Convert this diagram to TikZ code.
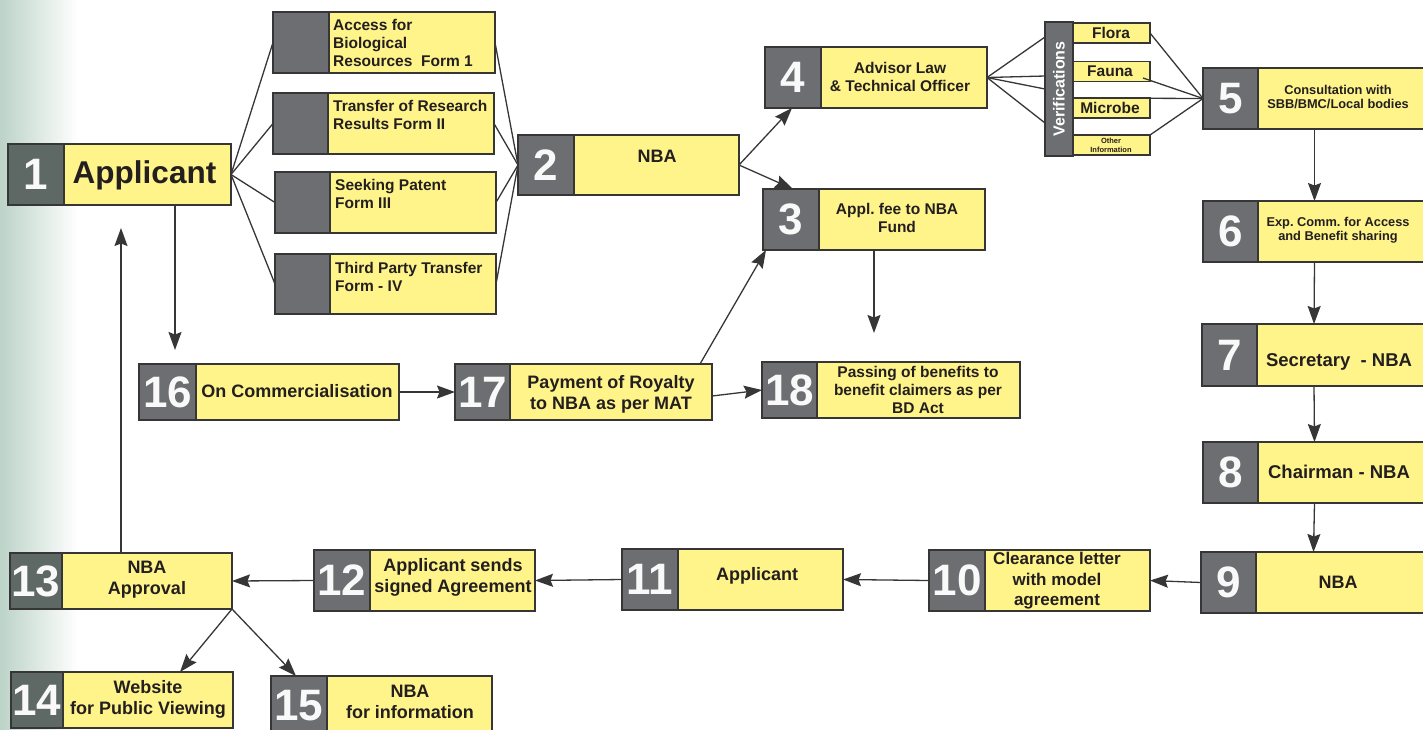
\documentclass[tikz,border=0pt]{standalone}
\usepackage{fontspec}
\setmainfont{Liberation Sans}
\usetikzlibrary{arrows.meta,calc}
\definecolor{yel}{HTML}{FFF48A}
\definecolor{gry}{HTML}{6D6E71}
\definecolor{gryg}{HTML}{5E6966}
\definecolor{edge}{HTML}{363636}
\definecolor{ink}{HTML}{231F20}
\definecolor{bgl}{HTML}{BCD3C8}
\frenchspacing
\newcommand\mkbox[8][gry]{%
  \node[ybox, minimum width={#6-#4}, minimum height={#7-#5}] (#2) at ({(#4+#6)/2},{(#5+#7)/2}) {};
  \node[gbox, fill=#1, minimum width={#8-#4}, minimum height={#7-#5}] (#2n) at ({(#4+#8)/2},{(#5+#7)/2}) {#3};
}
\begin{document}
\begin{tikzpicture}[x=1pt,y=-1pt,
  ybox/.style={draw=edge, line width=1.3pt, fill=yel, rectangle, inner sep=0pt, outer sep=0pt},
  gbox/.style={draw=edge, line width=1.3pt, rectangle, inner sep=0pt, outer sep=0pt, text=white!96!gry, font=\bfseries\fontsize{44}{44}\selectfont},
  lbl/.style={text=ink, inner sep=0pt, align=center, font=\frenchspacing\bfseries\fontsize{15.5}{18}\selectfont},
  big/.style={lbl, font=\frenchspacing\bfseries\fontsize{18}{21}\selectfont},
  sml/.style={lbl, font=\frenchspacing\bfseries\fontsize{12.8}{14}\selectfont},
  ln/.style={draw=edge, line width=1.3pt},
  arr/.style={draw=edge, line width=1.3pt, -{Stealth[length=18pt,width=13pt,inset=2.5pt]}}]
\useasboundingbox (0,0) rectangle (1423,729);
\fill[left color=bgl, right color=white] (0,0) rectangle (78,729);

% boxes
\mkbox[gryg]{b1}{1}{8}{144}{231}{205}{64}
\mkbox{f1}{}{273}{12}{495}{73}{329}
\mkbox{f2}{}{273}{93}{494}{154}{328}
\mkbox{f3}{}{275}{172}{496}{233}{330}
\mkbox{f4}{}{275}{254}{496}{314}{330}
\mkbox{b2}{2}{518}{135}{739}{195}{574}
\mkbox{b4}{4}{765}{47}{987}{108}{821}
\mkbox{b3}{3}{763}{189}{985}{250}{819}
\mkbox{b5}{5}{1203}{68}{1426}{129}{1258}
\mkbox{b6}{6}{1203}{201}{1426}{262}{1258}
\mkbox{b7}{7}{1202}{324}{1426}{386}{1257}
\mkbox{b8}{8}{1203}{442}{1426}{503}{1258}
\mkbox{b9}{9}{1201}{552}{1426}{613}{1256}
\mkbox{b10}{10}{929}{550}{1150}{611}{985}
\mkbox{b11}{11}{622}{549}{843}{610}{678}
\mkbox{b12}{12}{314}{550}{535}{611}{370}
\mkbox[gryg]{b13}{13}{10}{553}{232}{609}{62}
\mkbox[gryg]{b14}{14}{11}{672}{233}{728}{63}
\mkbox{b15}{15}{271}{676}{492}{736}{327}
\mkbox{b16}{16}{139}{364}{399}{420}{196}
\mkbox{b17}{17}{455}{364}{712}{420}{510}
\mkbox{b18}{18}{762}{362}{1020}{418}{817}

% verification bar and small boxes
\node[ybox, fill=gry, minimum width=28pt, minimum height=134pt] (vb) at (1059,89) {};
\node[lbl, text=white, rotate=90, font=\bfseries\fontsize{16}{18}\selectfont] (vbt) at (1059,89) {Verifications};
\node[ybox, minimum width=77pt, minimum height=20pt] (flora) at (1111.5,33) {};
\node[ybox, minimum width=77pt, minimum height=20pt] (fauna) at (1111.5,71.5) {};
\node[ybox, minimum width=77pt, minimum height=20pt] (microbe) at (1111.5,108) {};
\node[ybox, minimum width=77pt, minimum height=20pt] (other) at (1111.5,145) {};
\node[lbl] (florat) at (1111,33) {Flora};
\node[lbl] (faunat) at (1110,71.5) {Fauna};
\node[lbl] (microbet) at (1110,108) {Microbe};
\node[lbl, font=\bfseries\fontsize{7.5}{8.5}\selectfont] (othert) at (1111,145.5) {Other\\Information};

% labels
\node[lbl, font=\bfseries\fontsize{31.5}{34}\selectfont] (b1t) at (144.5,175) {Applicant};
\node[lbl, anchor=north west, align=left] (f1t) at (333,19) {Access for\\Biological\\Resources\ \ Form 1};
\node[lbl, anchor=north west, align=left] (f2t) at (333,100) {Transfer of Research\\Results Form II};
\node[lbl, anchor=north west, align=left] (f3t) at (335,179) {Seeking Patent\\Form III};
\node[lbl, anchor=north west, align=left] (f4t) at (335,262) {Third Party Transfer\\Form - IV};
\node[big] (b2t) at (657,156) {NBA};
\node[lbl] (b4t) at (900,77) {Advisor Law\\\& Technical Officer};
\node[lbl] (b3t) at (897,218) {Appl. fee to NBA\\Fund};
\node[sml] (b5t) at (1338,97) {Consultation with\\SBB/BMC/Local bodies};
\node[sml] (b6t) at (1338,230) {Exp. Comm. for Access\\and Benefit sharing};
\node[big, font=\bfseries\fontsize{18.5}{21}\selectfont] (b7t) at (1339,362) {Secretary\ \ - NBA};
\node[big, font=\bfseries\fontsize{18.5}{21}\selectfont] (b8t) at (1339,472) {Chairman - NBA};
\node[big] (b9t) at (1338,582) {NBA};
\node[lbl, font=\bfseries\fontsize{17}{20.5}\selectfont] (b10t) at (1057,581) {Clearance letter\\with model\\agreement};
\node[big] (b11t) at (757,576) {Applicant};
\node[big] (b12t) at (453,577) {Applicant sends\\signed Agreement};
\node[big] (b13t) at (147,580) {NBA\\Approval};
\node[big] (b14t) at (148,699) {Website\\for Public Viewing};
\node[big] (b15t) at (410,702) {NBA\\for information};
\node[big] (b16t) at (297,391) {On Commercialisation};
\node[big] (b17t) at (611,394) {Payment of Royalty\\to NBA as per MAT};
\node[lbl] (b18t) at (918,390) {Passing of benefits to\\benefit claimers as per\\BD Act};

% free ends
\coordinate (u1) at (121,228);
\coordinate (d16) at (175,350);
\coordinate (d18) at (874,333);

% connectors: applicant -> forms -> NBA
\foreach \f in {f1,f2,f3,f4} {
  \draw[ln] (b1.east) -- (\f.west);
  \draw[ln] (\f.east) -- (b2.west);
}
\draw[arr] (b2.east) -- ([xshift=27pt]b4.south west);
\draw[arr] (b2.east) -- ([xshift=30pt]b3.north west);
% advisor -> verifications
\draw[ln] (b4.east) -- ([yshift=52pt]vb.west);
\draw[ln] (b4.east) -- ([yshift=13pt]vb.west);
\draw[ln] (b4.east) -- ([yshift=0pt]vb.west);
\draw[ln] (b4.east) -- ([yshift=-34pt]vb.west);
% verifications -> 5
\draw[ln] (flora.east) -- (b5.west);
\draw[ln] ([xshift=-7pt,yshift=-6.5pt]fauna.east) -- (b5.west);
\draw[ln] (microbe.north west) -- (b5.west);
\draw[ln] (other.north east) -- (b5.west);
% right column
\draw[arr] (b5.south) -- (b6.north);
\draw[arr] (b6.south) -- (b7.north);
\draw[arr] (b7.south) -- (b8.north);
\draw[arr] (b8.south) -- (b9.north);
% bottom row
\draw[arr] (b9.west) -- (b10.east);
\draw[arr] (b10.west) -- (b11.east);
\draw[arr] (b11.west) -- (b12.east);
\draw[arr] (b12.west) -- (b13.east);
\draw[arr] (b13.north) -- (u1);
\draw[arr] (b13.south east) -- ([xshift=58pt]b14.north);
\draw[arr] (b13.south east) -- ([xshift=25pt]b15.north west);
% middle row
\draw[arr] ([xshift=55.5pt]b1.south) -- (d16);
\draw[arr] (b3.south) -- (d18);
\draw[arr] (b16.east) -- (b17.west);
\draw[arr] ([xshift=116.5pt]b17.north) -- ([xshift=3pt]b3.south west);
\draw[arr] ([yshift=-4pt]b17.east) -- (b18.west);
\end{tikzpicture}
\end{document}
